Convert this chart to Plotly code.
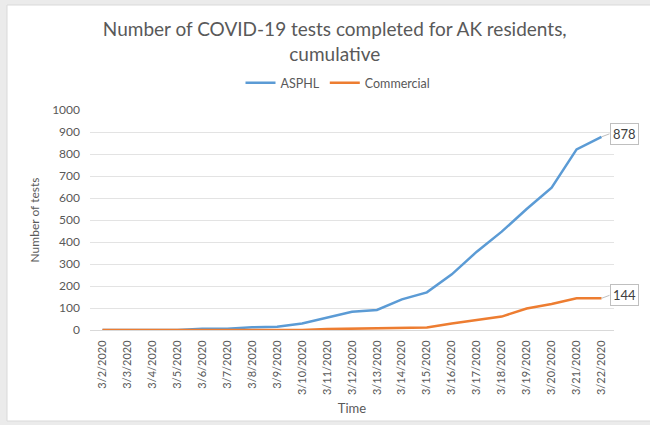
import plotly.graph_objects as go

dates = ["3/2/2020", "3/3/2020", "3/4/2020", "3/5/2020", "3/6/2020", "3/7/2020",
         "3/8/2020", "3/9/2020", "3/10/2020", "3/11/2020", "3/12/2020", "3/13/2020",
         "3/14/2020", "3/15/2020", "3/16/2020", "3/17/2020", "3/18/2020", "3/19/2020",
         "3/20/2020", "3/21/2020", "3/22/2020"]
asphl = [0, 0, 0, 0, 6, 6, 12, 15, 30, 56, 83, 91, 139, 171, 253, 356, 447, 550, 647, 821, 878]
commercial = [0, 0, 0, 0, 0, 0, 0, 0, 0, 4, 5, 9, 10, 11, 30, 44, 61, 98, 118, 144, 144]
y_ticks = [0, 100, 200, 300, 400, 500, 600, 700, 800, 900, 1000]

FONT = "Lato"
GRAY = "#595959"

fig = go.Figure()
fig.add_trace(go.Scatter(x=dates, y=asphl, mode="lines", name="ASPHL",
                         line=dict(color="#5b9bd5", width=2.5)))
fig.add_trace(go.Scatter(x=dates, y=commercial, mode="lines", name="Commercial",
                         line=dict(color="#ed7d31", width=2.5)))

L, R, T, B = 90, 36, 110, 95
W, H = 650, 425
pw, ph = W - L - R, H - T - B

def px_x(p):
    return (p - L) / pw

def px_y(p):
    return (H - B - p) / ph

fig.add_shape(type="rect", xref="paper", yref="paper",
              x0=px_x(7), x1=px_x(660), y0=px_y(421), y1=px_y(5),
              fillcolor="white", line=dict(color="#d9d9d9", width=1), layer="below")

for series in (asphl, commercial):
    fig.add_annotation(x=dates[-1], y=series[-1], text=str(series[-1]),
                       showarrow=True, arrowhead=0, arrowwidth=1, arrowcolor="#bfbfbf",
                       ax=8, ay=-3, xanchor="left", standoff=0,
                       bordercolor="#bfbfbf", borderwidth=1, borderpad=2, bgcolor="white",
                       font=dict(family=FONT, size=13, color="#404040"))

fig.update_layout(
    width=W, height=H,
    margin=dict(l=L, r=R, t=T, b=B),
    paper_bgcolor="#ebebeb", plot_bgcolor="white",
    font=dict(family=FONT, color=GRAY),
    title=dict(text="Number of COVID-19 tests completed for AK residents,<br>cumulative",
               x=0.515, xanchor="center", y=1 - 36 / H, yanchor="middle",
               font=dict(family=FONT, size=19, color=GRAY)),
    legend=dict(orientation="h", x=px_x(338), xanchor="center", y=px_y(83), yanchor="middle",
                font=dict(family=FONT, size=12.5, color=GRAY), bgcolor="rgba(0,0,0,0)",
                itemwidth=30, tracegroupgap=0),
    showlegend=True,
)
fig.update_xaxes(type="category", range=[-0.5, 20.5], tickangle=-90,
                 tickfont=dict(size=11, color=GRAY), showgrid=False,
                 showline=True, linecolor="#d9d9d9", ticks="", ticklabelstandoff=5,
                 title=dict(text="Time", font=dict(size=13, color=GRAY), standoff=9))
fig.update_yaxes(range=[0, 1000], tickvals=y_ticks, tickfont=dict(size=12, color=GRAY),
                 showgrid=True, gridcolor="#e3e3e3", zeroline=False, ticks="",
                 ticklabelstandoff=9,
                 title=dict(text="Number of tests", font=dict(size=12, color=GRAY), standoff=9))

fig.write_html("out.html", config={"displayModeBar": False},
               post_script="document.body.style.margin='0';document.body.style.overflow='hidden';")
